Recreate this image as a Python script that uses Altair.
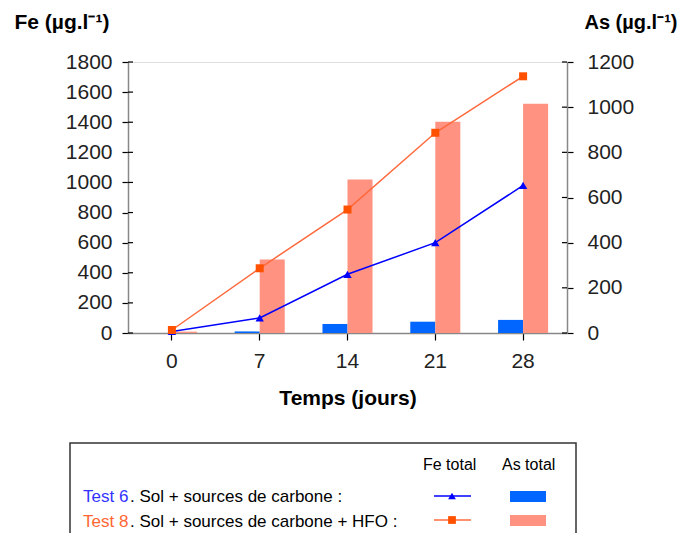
import altair as alt
import pandas as pd

# ---- data ----
days = ["0", "7", "14", "21", "28"]
fe_test6 = [10, 100, 390, 600, 980]      # Fe total, Test 6 (left axis)
fe_test8 = [20, 430, 820, 1330, 1705]    # Fe total, Test 8 (left axis)
as_test6 = [0, 7, 40, 50, 58]            # As total, Test 6 (right axis)
as_test8 = [6, 325, 680, 935, 1015]      # As total, Test 8 (right axis)
fe_ticks = [0, 200, 400, 600, 800, 1000, 1200, 1400, 1600, 1800]
as_ticks = [0, 200, 400, 600, 800, 1000, 1200]
series_as = ["as6", "as8"]

# ---- styles ----
BLUE_LINE = "#0000FF"
BLUE_BAR = "#0066FF"
ORANGE_LINE = "#FF6A3D"
ORANGE_MARK = "#FF5100"
SALMON = "#FF9280"
LEG_BLUE = "#3333FF"
LEG_ORANGE = "#FF6633"
FONT = "Liberation Sans"
W, H = 439, 271
TICK_FS = 21

df = pd.DataFrame({"day": days, "fe6": fe_test6, "fe8": fe_test8,
                   "as6": as_test6, "as8": as_test8})

xscale = alt.Scale(domain=days, paddingInner=0.43, paddingOuter=0.215)
x_axis = alt.Axis(title="Temps (jours)", labelAngle=0, labelFontSize=TICK_FS, labelColor="#222",
                  labelFont=FONT, labelPadding=10, tickSize=7, tickColor="#000", tickWidth=1.2,
                  domainColor="#888", domainWidth=1.5, titleFont=FONT, titleFontSize=21,
                  titleFontWeight="bold", titleColor="#000", titlePadding=16, grid=False)
x_enc = alt.X("day:N", scale=xscale, axis=x_axis)

fe_scale = alt.Scale(domain=[0, 1800], nice=False)
as_scale = alt.Scale(domain=[0, 1200], nice=False)

left_axis = alt.Axis(orient="left", values=fe_ticks, format="d", title="Fe (µg.l⁻¹)", grid=False,
                     labelFontSize=TICK_FS, labelColor="#222", labelFont=FONT, labelPadding=10,
                     tickSize=6, tickColor="#000", tickWidth=1.2,
                     domainColor="#888", domainWidth=1.5,
                     titleAngle=0, titleAlign="left", titleBaseline="alphabetic",
                     titleX=-114, titleY=-34, titleFont=FONT, titleFontSize=21,
                     titleFontWeight="bold", titleColor="#000")
right_axis = alt.Axis(orient="right", values=as_ticks, format="d", title="As (µg.l⁻¹)", grid=False,
                      labelFontSize=TICK_FS, labelColor="#222", labelFont=FONT, labelPadding=14,
                      tickSize=6, tickColor="#000", tickWidth=1.2,
                      domainColor="#888", domainWidth=1.5,
                      titleAngle=0, titleAlign="left", titleBaseline="alphabetic",
                      titleX=17, titleY=-34, titleFont=FONT, titleFontSize=20,
                      titleFontWeight="bold", titleColor="#000")

bars = alt.Chart(df).transform_fold(series_as, as_=["serie", "val"]).mark_bar().encode(
    x=x_enc,
    xOffset=alt.XOffset("serie:N", scale=alt.Scale(domain=series_as, paddingInner=0, paddingOuter=0)),
    y=alt.Y("val:Q", scale=as_scale, axis=right_axis),
    color=alt.Color("serie:N", scale=alt.Scale(domain=series_as, range=[BLUE_BAR, SALMON]), legend=None),
)
rticks = alt.Chart(pd.DataFrame({"t": as_ticks})).mark_rule(color="#000", strokeWidth=1.2).encode(
    y=alt.Y("t:Q", scale=as_scale, axis=right_axis), x=alt.value(W - 5), x2=alt.value(W))

line6 = alt.Chart(df).mark_line(
    color=BLUE_LINE, strokeWidth=1.5,
    point=alt.OverlayMarkDef(shape="triangle-up", filled=True, size=70, color=BLUE_LINE, opacity=1),
).encode(x=x_enc, y=alt.Y("fe6:Q", scale=fe_scale, axis=left_axis))
line8 = alt.Chart(df).mark_line(
    color=ORANGE_LINE, strokeWidth=1.5,
    point=alt.OverlayMarkDef(shape="square", filled=True, size=64, color=ORANGE_MARK, opacity=1),
).encode(x=x_enc, y=alt.Y("fe8:Q", scale=fe_scale, axis=left_axis))
lticks = alt.Chart(pd.DataFrame({"t": fe_ticks})).mark_rule(color="#000", strokeWidth=1.2).encode(
    y=alt.Y("t:Q", scale=fe_scale, axis=left_axis), x=alt.value(0), x2=alt.value(5))

# ---- hand-made legend box below the plot ----
one = alt.Data(values=[{}])


def txt(s, x, y, color="#000", size=17):
    return alt.Chart(one).mark_text(text=s, align="left", baseline="alphabetic", fontSize=size,
                                    font=FONT, color=color).encode(x=alt.value(x), y=alt.value(y))


box = alt.Chart(one).mark_rect(fill="white", stroke="#333", strokeWidth=1.5).encode(
    x=alt.value(-58), x2=alt.value(448), y=alt.value(381), y2=alt.value(520))
legend_parts = [
    box,
    txt("Fe total", 295, 408, size=16),
    txt("As total", 374, 408, size=16),
    txt("Test 6", -45, 440, LEG_BLUE),
    txt(". Sol + sources de carbone :", 2, 440),
    txt("Test 8", -45, 465, LEG_ORANGE),
    txt(". Sol + sources de carbone + HFO :", 2, 465),
    alt.Chart(one).mark_rule(color=BLUE_LINE, strokeWidth=1.5).encode(
        x=alt.value(306), x2=alt.value(343), y=alt.value(434)),
    alt.Chart(one).mark_point(shape="triangle-up", filled=True, size=60, color=BLUE_LINE, opacity=1).encode(
        x=alt.value(324), y=alt.value(434)),
    alt.Chart(one).mark_rule(color=ORANGE_LINE, strokeWidth=1.5).encode(
        x=alt.value(306), x2=alt.value(343), y=alt.value(458)),
    alt.Chart(one).mark_point(shape="square", filled=True, size=60, color=ORANGE_MARK, opacity=1).encode(
        x=alt.value(324), y=alt.value(458)),
    alt.Chart(one).mark_rect(color=BLUE_BAR).encode(
        x=alt.value(382), x2=alt.value(418), y=alt.value(429), y2=alt.value(440)),
    alt.Chart(one).mark_rect(color=SALMON).encode(
        x=alt.value(382), x2=alt.value(418), y=alt.value(453), y2=alt.value(464)),
]

chart = alt.layer(
    alt.layer(bars, rticks),
    alt.layer(line6, line8, lticks),
    *legend_parts,
).resolve_scale(y="independent").properties(
    width=W, height=H,
    padding={"left": 120, "top": 54, "right": 113, "bottom": 200},
    autosize=alt.AutoSizeParams(type="none"),
).configure_view(stroke="#888", strokeWidth=1.5).configure(font=FONT)

chart.save("out.html", embed_options={"renderer": "svg", "actions": False})
